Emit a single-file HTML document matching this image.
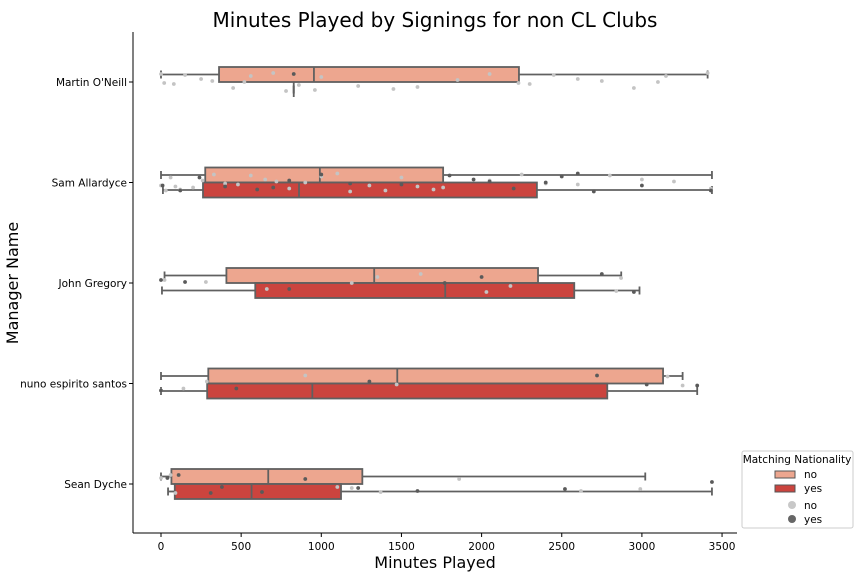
<!DOCTYPE html>
<html><head><meta charset="utf-8"><style>
body{margin:0;background:#fff;font-family:"Liberation Sans","DejaVu Sans",sans-serif}
svg text{font-family:"DejaVu Sans","Liberation Sans",sans-serif}
</style></head><body>
<svg id="c" width="864" height="576" xmlns="http://www.w3.org/2000/svg">
<rect width="864" height="576" fill="#fff"/>
<text x="435" y="27" font-size="20" text-anchor="middle" fill="#000">Minutes Played by Signings for non CL Clubs</text>
<g id="plot"></g>
<line x1="133" y1="32" x2="133" y2="533" stroke="#000" stroke-width="1"/>
<line x1="133" y1="533" x2="737" y2="533" stroke="#000" stroke-width="1"/>
<g id="xt"></g>
<g id="yt"></g>
<text x="435" y="568" font-size="16" text-anchor="middle">Minutes Played</text>
<text transform="translate(18,283) rotate(-90)" font-size="16" text-anchor="middle">Manager Name</text>
<g>
<rect x="742" y="451" width="111" height="77" rx="2" fill="#fff" stroke="#ccc" stroke-width="1"/>
<text x="797" y="463" font-size="10.5" text-anchor="middle">Matching Nationality</text>
<rect x="775" y="471" width="20" height="7" fill="#eda68f" stroke="#555" stroke-width="1"/>
<text x="804" y="478" font-size="10.5">no</text>
<rect x="775" y="485" width="20" height="7" fill="#cb443e" stroke="#555" stroke-width="1"/>
<text x="804" y="492" font-size="10.5">yes</text>
<circle cx="792" cy="505" r="4" fill="#c8c8c8"/>
<text x="804" y="509" font-size="10.5">no</text>
<circle cx="792" cy="519" r="4" fill="#666"/>
<text x="804" y="523" font-size="10.5">yes</text>
</g>
</svg>
<script>
const managers=["Martin O'Neill","Sam Allardyce","John Gregory","nuno espirito santos","Sean Dyche"];
const xTicks=[0,500,1000,1500,2000,2500,3000,3500];
// [whiskerLow, q1, median, q3, whiskerHigh]
const statsNo=[[0,362,954,2233,3410],[0,276,991,1760,3437],[22,408,1330,2352,2871],[0,295,1474,3132,3254],[0,65,669,1256,3021]];
const statsYes=[[828,828,828,828,828],[12,262,861,2345,3437],[6,588,1773,2578,2985],[0,288,944,2784,3345],[44,86,565,1123,3437]];
const ptsNo=[[0,20,80,150,250,320,450,520,560,700,780,860,960,1000,1230,1450,1600,1850,2050,2230,2300,2450,2600,2750,2950,3100,3150,3410],
[0,30,60,90,120,200,260,330,400,480,560,650,720,800,900,1000,1100,1180,1300,1400,1500,1600,1700,1760,2050,2250,2400,2600,2800,3000,3200,3430],
[22,280,660,1190,1350,1620,2030,2180,2840,2870],[0,140,286,900,1470,3254,3160],[0,60,90,1100,1370,1860,1190,2620,2990]];
const ptsYes=[[828],[10,120,240,400,600,700,800,1000,1180,1500,1800,1950,2050,2200,2400,2500,2600,2700,3000,3430],
[0,150,800,1770,2000,2750,2950],[0,470,1300,2720,3030,3345],[40,110,310,380,630,900,1230,1600,2520,3437]];
const X=v=>161+v*0.1603;
const yC=[82,182.5,283,383.5,484];
const NS="http://www.w3.org/2000/svg";
function mk(t,a,p){const e=document.createElementNS(NS,t);for(const k in a)e.setAttribute(k,a[k]);p.appendChild(e);return e;}
const plot=document.getElementById('plot'),xt=document.getElementById('xt'),yt=document.getElementById('yt');
xTicks.forEach(v=>{mk('line',{x1:X(v),x2:X(v),y1:533,y2:537,stroke:'#000'},xt);
const t=mk('text',{x:X(v),y:550,'font-size':10.5,'text-anchor':'middle'},xt);t.textContent=v;

});
managers.forEach((m,i)=>{mk('line',{x1:129,x2:133,y1:yC[i],y2:yC[i],stroke:'#000'},yt);
const t=mk('text',{x:127,y:yC[i]+4,'font-size':10.5,'text-anchor':'end'},yt);t.textContent=m;

});
function box(s,yTop,fill,name){const g=mk('g',{},plot);


const ym=yTop+7.5,st={stroke:'#606060','stroke-width':1.8};
mk('line',Object.assign({x1:X(s[0]),x2:X(s[1]),y1:ym,y2:ym},st),g);
mk('line',Object.assign({x1:X(s[3]),x2:X(s[4]),y1:ym,y2:ym},st),g);
mk('line',Object.assign({x1:X(s[0]),x2:X(s[0]),y1:ym-4,y2:ym+4},st),g);
mk('line',Object.assign({x1:X(s[4]),x2:X(s[4]),y1:ym-4,y2:ym+4},st),g);
if(s[3]>s[1])mk('rect',Object.assign({x:X(s[1]),y:yTop,width:X(s[3])-X(s[1]),height:15,fill:fill},st),g);
mk('line',Object.assign({x1:X(s[2]),x2:X(s[2]),y1:yTop,y2:yTop+15},st),g);}
managers.forEach((m,i)=>{box(statsNo[i],yC[i]-15,'#eda68f','box-no');box(statsYes[i],yC[i],'#cb443e','box-yes');});
const jit=[-8,3,-3,7,-6,1,8,-1,5,-9,2,-5,6,-2,9,-7,4,0];
function pts(arr,col,name){arr.forEach((a,i)=>a.forEach((v,k)=>{const c=mk('circle',{cx:X(v),cy:yC[i]+jit[(k*5+i)%jit.length],r:1.9,fill:col},plot);

}));}
pts(ptsNo,'#c4c4c4','point-no');pts(ptsYes,'#5a5a5a','point-yes');
</script>
</body></html>
